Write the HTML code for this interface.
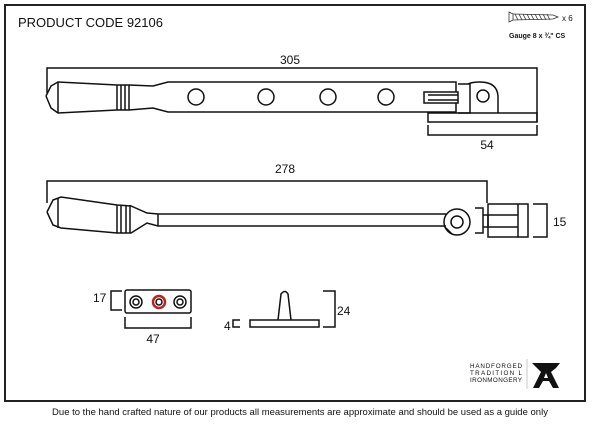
<!DOCTYPE html>
<html><head><style>
body{margin:0;background:#fff;width:600px;height:425px;overflow:hidden}
svg{display:block}
text{font-family:"Liberation Sans",sans-serif;fill:#111}
</style></head><body>
<svg width="600" height="425" viewBox="0 0 600 425" xmlns="http://www.w3.org/2000/svg">
<rect x="5" y="5" width="580" height="396" fill="none" stroke="#222" stroke-width="2"/>
<text x="18" y="27" font-size="13">PRODUCT CODE  92106</text>
<g stroke="#333" stroke-width="0.8" fill="none">
<path d="M509 12 L513 14 L513 20 L509 22 Z"/>
<path d="M513 14 L553 15 L558 17 L553 19 L513 20"/>
<path d="M515 14 l3 6 M519 14 l3 6 M523 14 l3 6 M527 14 l3 6 M531 14 l3 6 M535 14 l3 6 M539 14 l3 6 M543 14 l3 6 M547 14 l3 6"/>
</g>
<text x="562" y="21" font-size="8">x 6</text>
<text x="509" y="38" font-size="7" font-weight="bold">Gauge 8 x ¾" CS</text>
<g fill="none" stroke="#111" stroke-width="1.5">
<path d="M47 93 V68 H537 V122"/>
<path d="M46 96 L51 86 L58 82 L117 85 L129 85 L153 86 L168 82 L456 82 V92"/>
<path d="M46 96 L51 108 L58 113 L117 110 L129 110 L153 108 L168 112 L456 112 V103"/>
<path d="M58 82 V113 M117 85 V110 M121 85 V110 M125 85 V110 M129 85 V110"/>
<circle cx="196" cy="97" r="8"/><circle cx="266" cy="97" r="8"/><circle cx="328" cy="97" r="8"/><circle cx="386" cy="97" r="8"/>
<path d="M424 92 H458 V103 H424 Z M428 95 H458 V100 H428"/>
<path d="M458 84 H470 V113 H458 M468 84 Q472 82 480 82 Q497 82 498 96 V113"/>
<circle cx="483" cy="96" r="6"/>
<path d="M428 113 H537 V122 H428 Z"/>
<path d="M428 125 V135 H537 V125"/>
<path d="M47 203 V181 H487 V203"/>
<path d="M47 212 L53 200 L61 197 L117 205 L131 206 L147 213 L158 214 H446"/>
<path d="M47 212 L53 225 L61 228 L117 233 L131 233 L147 223 L158 226 H446"/>
<path d="M58 198 V228 M117 205 V233 M121 205 V233 M126 205 V233 M130 205 V233 M158 214 V226"/>
<circle cx="457" cy="222" r="13"/><circle cx="457" cy="222" r="6"/>
<path d="M446 228 L452 234"/>
<path d="M475 208 H483 V233 H475 M483 215 H488 V227 H483"/>
<path d="M488 204 H528 V237 H488 Z M488 215 H518 V227 H488 M518 204 V237"/>
<path d="M533 204 H547 V237 H533"/>
<rect x="125" y="290" width="66" height="23" rx="2"/>
<path d="M122 291 H111 V310 H122"/>
<path d="M125 317 V328 H191 V317"/>
<circle cx="136" cy="302" r="6"/><circle cx="136" cy="302" r="3"/>
<circle cx="180" cy="302" r="6"/><circle cx="180" cy="302" r="3"/>
<path d="M240 320 H233 V327 H240"/>
<rect x="250" y="320" width="69" height="7"/>
<path d="M278 320 L281 294 Q285 289 288 294 L291 320"/>
<path d="M323 291 H335 V327 H323"/>
</g>
<path d="M527 359 V389" stroke="#bbb" stroke-width="0.8"/>
<circle cx="159" cy="302" r="6" fill="none" stroke="#b22" stroke-width="2.5"/>
<circle cx="159" cy="302" r="3" fill="none" stroke="#111" stroke-width="1.5"/>
<text x="290" y="64" font-size="12" text-anchor="middle">305</text>
<text x="487" y="149" font-size="12" text-anchor="middle">54</text>
<text x="285" y="173" font-size="12" text-anchor="middle">278</text>
<text x="553" y="226" font-size="12">15</text>
<text x="93" y="302" font-size="12">17</text>
<text x="153" y="343" font-size="12" text-anchor="middle">47</text>
<text x="224" y="330" font-size="12">4</text>
<text x="337" y="315" font-size="12">24</text>
<g font-family="Liberation Serif" font-size="6.3" fill="#333">
<text x="470" y="368" textLength="52">HANDFORGED</text>
<text x="470" y="375" textLength="52">TRADITION  L</text>
<text x="470" y="382" textLength="52">IRONMONGERY</text>
</g>
<path d="M532 363 H560 L556 368 L551 372 L559 388 H553 L549 381 H543 L539 388 H533 L541 372 L537 368 Z" fill="#111"/>
<path d="M544 378 L546 373 L548 378 Z" fill="#fff"/>
<text x="300" y="415" font-size="9.5" text-anchor="middle">Due to the hand crafted nature of our products all measurements are approximate and should be used as a guide only</text>
</svg>
</body></html>
